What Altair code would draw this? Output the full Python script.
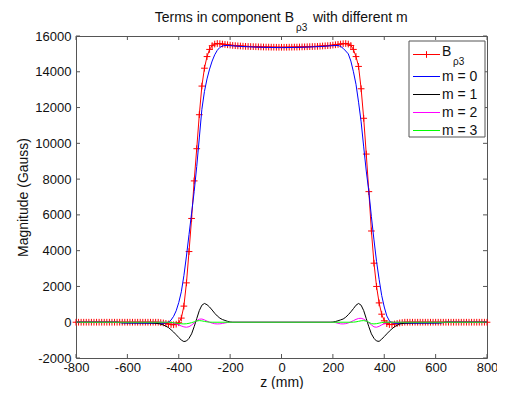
import altair as alt
import pandas as pd

# ---------------- data ----------------
z_b = list(range(-800, 801, 10))
b_rho3 = (
    [0] * 33
    + [-20, -40, -70, -100, -130, -140, -110, -30, 230, 900, 2200, 3950, 5800, 7900,
       9700, 11600, 13200, 14200, 14850, 15250, 15460, 15550, 15580]
    + [15570, 15550, 15530, 15510, 15490, 15470, 15460, 15450, 15440, 15430, 15420, 15415,
       15410, 15405, 15400, 15395, 15390, 15385, 15380, 15380, 15375, 15375, 15370, 15370]
    + [15370]
    + [15370, 15370, 15375, 15375, 15380, 15380, 15385, 15390, 15395, 15400, 15405, 15410,
       15415, 15420, 15430, 15440, 15450, 15460, 15470, 15490, 15510, 15530, 15550, 15570]
    + [15580, 15550, 15470, 15250, 14850, 14300, 13050, 11400, 9400, 7300, 5100, 3300,
       2000, 1080, 450, 80, -80, -130, -130, -100, -70, -40, -20]
    + [0] * 33
)

z_m0 = [-800, -640, -620, -600, -560, -500, -460, -450, -440, -430, -420, -410, -400,
        -390, -380, -370, -360, -350, -340, -330, -320, -310, -300, -290, -280, -270,
        -260, -250, -240, -230, -220, -200, -150, -100, -50, 0, 50, 100, 150, 200, 220,
        230, 240, 250, 260, 270, 280, 290, 300, 310, 320, 330, 340, 350, 360, 370, 380,
        390, 400, 410, 420, 430, 440, 460, 500, 560, 600, 620, 640, 800]
m0 = [0, 0, -40, -50, -55, -60, -60, -40, 0, 120, 330, 640, 1100,
      1700, 2600, 3700, 4900, 6100, 7300, 8700, 10300, 11900, 12900, 13600, 14150, 14600,
      14950, 15200, 15360, 15440, 15470, 15460, 15410, 15380, 15360, 15350, 15360, 15380,
      15410, 15460, 15470,
      15420, 15310, 15160, 15000, 14600, 14000, 13300, 12300, 11200, 9800, 8450, 7300,
      5900, 4600, 3400, 2400,
      1500, 850, 350, 80, -30, -60, -60, -60, -55, -50, -40, 0, 0]

z_m1 = [-800, -640, -620, -560, -520, -500, -480, -460, -440, -430, -420, -410, -400,
        -390, -380, -370, -360, -350, -340, -330, -320, -310, -300, -290, -280, -270,
        -260, -250, -240, -230, -220, -210, -200, -190, 190, 200, 210, 220, 230, 240,
        250, 260, 270, 280, 290, 300, 310, 320, 330, 340, 350, 360, 370, 380, 390, 400,
        410, 420, 430, 440, 460, 480, 500, 520, 560, 620, 640, 800]
m1 = [0, 0, -30, -30, -30, -40, -70, -150, -300, -420, -550, -700, -850,
      -1000, -1080, -1050, -900, -650, -250, 200, 650, 950, 1050, 980, 850, 680,
      500, 350, 230, 150, 100, 50, 15, 0, 0, 10, 40, 80, 130, 180,
      280, 420, 580, 760, 950, 1050, 950, 650, 200, -250, -650, -900, -1050, -1070, -950, -800,
      -650, -500, -370, -250, -100, -50, -40, -30, -30, -30, 0, 0]

z_m2 = [-800, -440, -430, -420, -410, -400, -390, -380, -370, -360, -350, -340, -330,
        -320, -310, -300, -290, -280, -270, -260, -250, -240, -230, -220, -210, -200,
        200, 210, 220, 230, 240, 250, 260, 270, 280, 290, 300, 310, 320, 330, 340, 350,
        360, 370, 380, 390, 400, 410, 420, 800]
m2 = [0, 0, -20, -50, -100, -150, -210, -260, -280, -250, -160, -40, 80,
      170, 180, 130, 60, 0, -50, -85, -95, -90, -70, -40, -15, 0,
      0, -20, -60, -90, -95, -80, -40, 20, 90, 160, 210, 220, 170, 80, -30, -150,
      -260, -280, -230, -150, -80, -30, 0, 0]

z_m3 = [-800, -440, -420, -400, -390, -380, -370, -360, -350, -340, -330, -320, -310,
        -300, -290, -280, -270, 270, 280, 290, 300, 310, 320, 330, 340, 350, 360, 370,
        380, 390, 400, 800]
m3 = [0, 0, -30, -70, -85, -95, -85, -60, -25, 20, 70, 90, 75,
      45, 20, 5, 0, 0, 5, 20, 50, 80, 90, 60, 0, -80, -95, -80,
      -50, -20, 0, 0]

x_ticks = [-800, -600, -400, -200, 0, 200, 400, 600, 800]
y_ticks = [-2000, 0, 2000, 4000, 6000, 8000, 10000, 12000, 14000, 16000]

legend_labels = ["m = 0", "m = 1", "m = 2", "m = 3"]
legend_colors = ["#0000ff", "#000000", "#ff00ff", "#00ff00"]

# ---------------- layout / style ----------------
W, H = 411, 322
FONT = "Liberation Sans"
AXC = "#555555"
TXT = "#111111"
PLUS = "M-1,0L1,0M0,-1L0,1"

xs = alt.Scale(domain=[-800, 800], nice=False, zero=False)
ys = alt.Scale(domain=[-2000, 16000], nice=False, zero=False)

x_axis = alt.Axis(values=x_ticks, labelExpr="datum.value + ''", title="z (mm)",
                  ticks=False, domain=False, grid=False, labelPadding=3,
                  labelFlush=False, labelOverlap=False,
                  titleY=24, titleBaseline="middle")
y_axis = alt.Axis(values=y_ticks, labelExpr="datum.value + ''", title="Magnitude (Gauss)",
                  ticks=False, domain=False, grid=False, labelPadding=5,
                  labelFlush=False, labelOverlap=False,
                  titleX=-53, titleY=H / 2,
                  titleAngle=-90, titleAlign="center", titleBaseline="middle")

one = pd.DataFrame({"a": [0]})


def X(field):
    return alt.X(field, scale=xs, axis=x_axis)


def Y(field):
    return alt.Y(field, scale=ys, axis=y_axis)


def series_line(z, v, color):
    df = pd.DataFrame({"z": z, "v": v})
    return alt.Chart(df).mark_line(color=color, strokeWidth=1).encode(
        x=X("z:Q"), y=Y("v:Q"))


def label(txt, x, y, size=14, align="left", baseline="alphabetic"):
    return alt.Chart(one).mark_text(
        text=txt, fontSize=size, align=align, baseline=baseline, font=FONT, color=TXT
    ).encode(x=alt.value(x), y=alt.value(y))


df_b = pd.DataFrame({"z": z_b, "v": b_rho3})
b_line = alt.Chart(df_b).mark_line(color="#ff0000", strokeWidth=1).encode(
    x=X("z:Q"), y=Y("v:Q"))
b_pts = alt.Chart(df_b).mark_point(shape=PLUS, filled=False, color="#ff0000", size=45,
                                   strokeWidth=1, opacity=1).encode(
    x=X("z:Q"), y=Y("v:Q"))

xt = pd.DataFrame({"z": x_ticks})
yt = pd.DataFrame({"v": y_ticks})
tick_len = 4
bottom_ticks = alt.Chart(xt).mark_rule(color=AXC, strokeWidth=1).encode(
    x=X("z:Q"), y=alt.value(H), y2=alt.value(H - tick_len))
top_ticks = alt.Chart(xt).mark_rule(color=AXC, strokeWidth=1).encode(
    x=X("z:Q"), y=alt.value(0), y2=alt.value(tick_len))
left_ticks = alt.Chart(yt).mark_rule(color=AXC, strokeWidth=1).encode(
    y=Y("v:Q"), x=alt.value(0), x2=alt.value(tick_len))
right_ticks = alt.Chart(yt).mark_rule(color=AXC, strokeWidth=1).encode(
    y=Y("v:Q"), x=alt.value(W - tick_len), x2=alt.value(W))

# title with subscript
title_layers = [
    label("Terms in component B", 218, -14, align="right"),
    label("\u03c13", 220, -5, size=10),
    label("with different m", 237, -14),
]

# legend box
LX0, LX1, LY0, LY1 = 333, 409, 5, 101
leg_layers = [alt.Chart(one).mark_rect(fill="white", stroke=AXC, strokeWidth=1).encode(
    x=alt.value(LX0), x2=alt.value(LX1), y=alt.value(LY0), y2=alt.value(LY1))]
ly0 = 18.5
leg_layers.append(alt.Chart(one).mark_rule(color="#ff0000", strokeWidth=1).encode(
    x=alt.value(337), x2=alt.value(364), y=alt.value(ly0)))
leg_layers.append(alt.Chart(one).mark_point(shape=PLUS, filled=False, color="#ff0000",
                                            size=45, strokeWidth=1, opacity=1).encode(
    x=alt.value(350.5), y=alt.value(ly0)))
leg_layers.append(label("B", 366, 16, baseline="middle"))
leg_layers.append(label("\u03c13", 377, 26, size=10, baseline="middle"))
for i, (lab, col) in enumerate(zip(legend_labels, legend_colors)):
    yy = 40.5 + 18 * i
    leg_layers.append(alt.Chart(one).mark_rule(stroke=col, strokeWidth=1).encode(
        x=alt.value(337), x2=alt.value(364), y=alt.value(yy)))
    leg_layers.append(label(lab, 366, yy, baseline="middle"))

chart = alt.layer(
    b_line, b_pts,
    series_line(z_m0, m0, "#0000ff"),
    series_line(z_m1, m1, "#000000"),
    series_line(z_m2, m2, "#ff00ff"),
    series_line(z_m3, m3, "#00ff00"),
    bottom_ticks, top_ticks, left_ticks, right_ticks,
    *title_layers,
    *leg_layers,
).properties(
    width=W, height=H,
    autosize=alt.AutoSizeParams(type="none"),
    padding={"left": 68, "top": 28, "right": 10, "bottom": 31},
).configure_view(
    stroke=AXC, strokeWidth=1
).configure_axis(
    labelFont=FONT, labelFontSize=13, labelColor=TXT,
    titleFont=FONT, titleFontSize=14, titleColor=TXT, titleFontWeight="normal",
)

chart.save("out.html", embed_options={"renderer": "svg", "actions": False})
